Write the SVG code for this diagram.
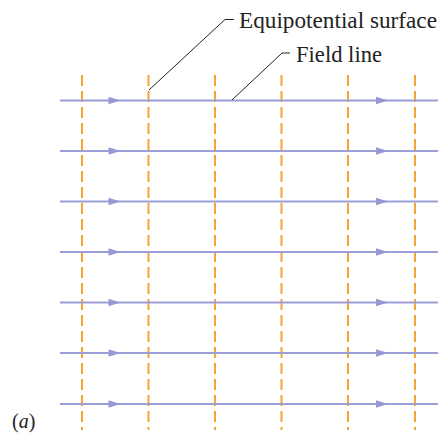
<svg xmlns="http://www.w3.org/2000/svg" width="439" height="434" viewBox="0 0 439 434">
<defs>
<style>
.field{stroke:#9d9dd8;stroke-width:2;fill:none}
.equi{stroke:#f7a234;stroke-width:2;stroke-dasharray:11 5;fill:none}
.leader{stroke:#222;stroke-width:1;fill:none}
.arr{fill:#9898d6}
.lbl{font-family:"Liberation Serif","DejaVu Serif","Times New Roman",serif;font-size:22.5px;fill:#222}
</style>
<polygon id="ah" class="arr" points="0,-3.8 12,0 0,3.8"/>
</defs>
<rect width="439" height="434" fill="#fff"/>
<g id="equipotentials">
<line class="equi" x1="82" y1="75" x2="82" y2="430"/>
<line class="equi" x1="148.5" y1="75" x2="148.5" y2="430"/>
<line class="equi" x1="215" y1="75" x2="215" y2="430"/>
<line class="equi" x1="281.5" y1="75" x2="281.5" y2="430"/>
<line class="equi" x1="348" y1="75" x2="348" y2="430"/>
<line class="equi" x1="415" y1="75" x2="415" y2="430"/>
</g>
<g id="fieldlines">
<line class="field" x1="60" y1="100.5" x2="438" y2="100.5"/>
<line class="field" x1="60" y1="151" x2="438" y2="151"/>
<line class="field" x1="60" y1="201.5" x2="438" y2="201.5"/>
<line class="field" x1="60" y1="252" x2="438" y2="252"/>
<line class="field" x1="60" y1="302.5" x2="438" y2="302.5"/>
<line class="field" x1="60" y1="353" x2="438" y2="353"/>
<line class="field" x1="60" y1="404" x2="438" y2="404"/>
<use href="#ah" x="108.5" y="100.5"/><use href="#ah" x="376" y="100.5"/>
<use href="#ah" x="108.5" y="151"/><use href="#ah" x="376" y="151"/>
<use href="#ah" x="108.5" y="201.5"/><use href="#ah" x="376" y="201.5"/>
<use href="#ah" x="108.5" y="252"/><use href="#ah" x="376" y="252"/>
<use href="#ah" x="108.5" y="302.5"/><use href="#ah" x="376" y="302.5"/>
<use href="#ah" x="108.5" y="353"/><use href="#ah" x="376" y="353"/>
<use href="#ah" x="108.5" y="404"/><use href="#ah" x="376" y="404"/>
</g>
<g id="connectors">
<polyline class="leader" points="149,90 225,19.5 234,19.5"/>
<polyline class="leader" points="232,100 282,53 290,53"/>
</g>
<g id="label-equipotential">
<text class="lbl" x="239" y="28" textLength="198" lengthAdjust="spacingAndGlyphs">Equipotential surface</text>
</g>
<g id="label-field">
<text class="lbl" x="296" y="62" textLength="86" lengthAdjust="spacingAndGlyphs">Field line</text>
</g>
<g id="label-a">
<text class="lbl" x="12" y="428" style="font-size:20px">(<tspan font-style="italic">a</tspan>)</text>
</g>
</svg>
